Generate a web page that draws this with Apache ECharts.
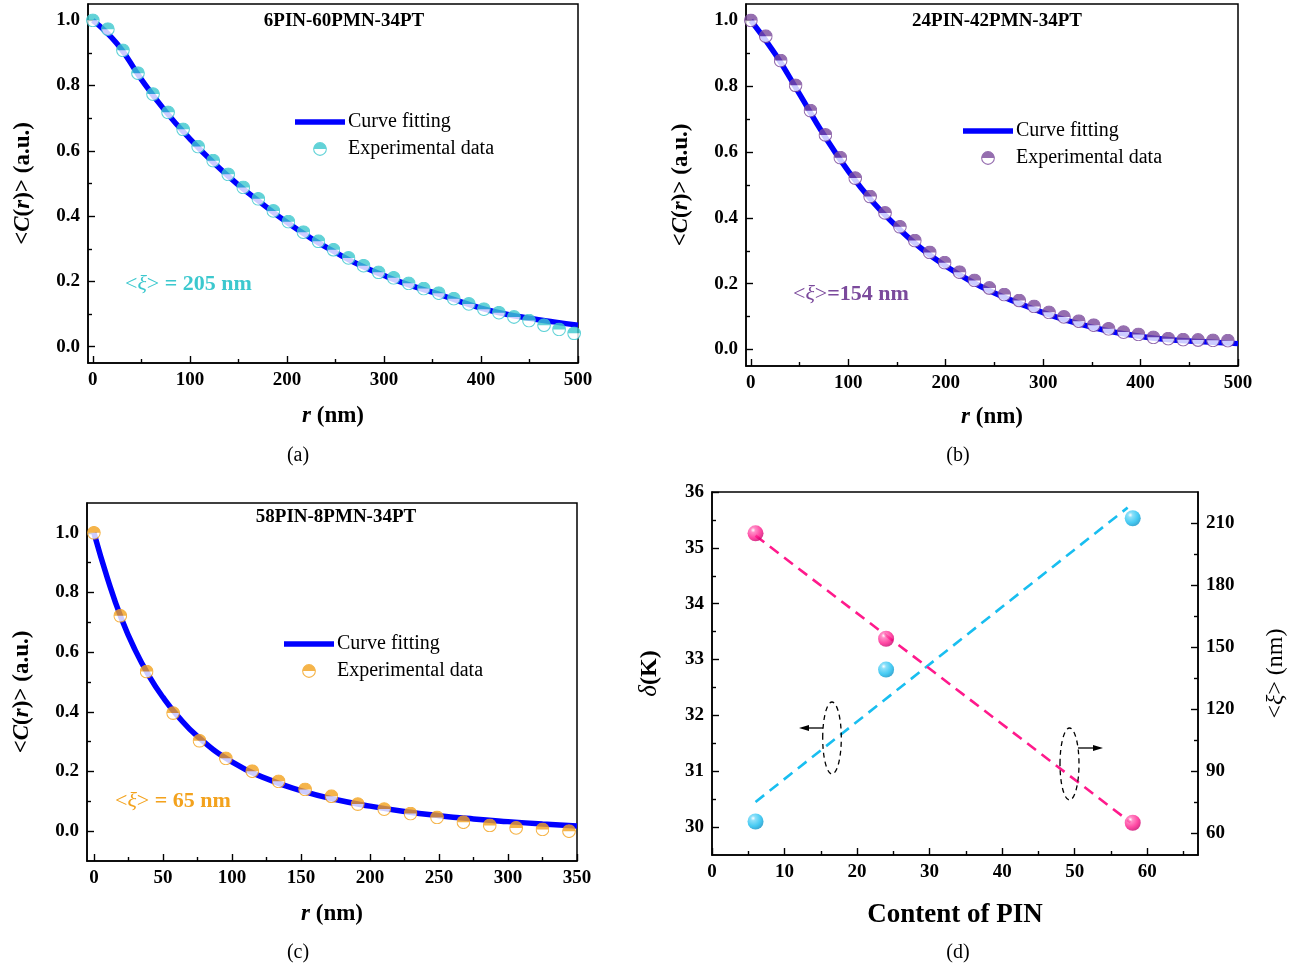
<!DOCTYPE html>
<html>
<head>
<meta charset="utf-8">
<title>C(r) fitting and correlation length</title>
<script src="https://cdn.jsdelivr.net/npm/echarts@6.0.0/dist/echarts.min.js"></script>
<style>
  html, body { margin: 0; padding: 0; background: #fff; }
  #chart { width: 1300px; height: 970px; }
</style>
</head>
<body>
<div id="chart"></div>
<script>
// (a) 6PIN-60PMN-34PT
const rA = [0, 15.5, 31, 46.5, 62, 77.5, 93, 108.5, 124, 139.5, 155, 170.5, 186, 201.5, 217, 232.5, 248,
  263.5, 279, 294.5, 310, 325.5, 341, 356.5, 372, 387.5, 403, 418.5, 434, 449.5, 465, 480.5, 496];
const cA = [1.000, 0.973, 0.908, 0.838, 0.774, 0.718, 0.666, 0.613, 0.570, 0.528, 0.488, 0.453, 0.416, 0.383,
  0.351, 0.323, 0.297, 0.272, 0.248, 0.228, 0.211, 0.194, 0.178, 0.164, 0.147, 0.131, 0.115, 0.104, 0.091,
  0.080, 0.066, 0.053, 0.041];
const fitRA = [0, 25, 50, 75, 100, 125, 150, 175, 200, 225, 250, 275, 300, 325, 350, 375, 400, 425, 450, 475, 500];
const fitA = [1.000, 0.928, 0.819, 0.721, 0.637, 0.562, 0.496, 0.437, 0.381, 0.332, 0.289, 0.250, 0.218, 0.190,
  0.167, 0.142, 0.118, 0.100, 0.087, 0.076, 0.066];

// (b) 24PIN-42PMN-34PT
const rB = [0, 15.3, 30.6, 45.9, 61.2, 76.5, 91.8, 107.1, 122.4, 137.7, 153, 168.3, 183.6, 198.9, 214.2, 229.5,
  244.8, 260.1, 275.4, 290.7, 306, 321.3, 336.6, 351.9, 367.2, 382.5, 397.8, 413.1, 428.4, 443.7, 459, 474.3, 489.6];
const cB = [1.000, 0.952, 0.878, 0.803, 0.726, 0.652, 0.583, 0.521, 0.465, 0.415, 0.373, 0.331, 0.295, 0.264,
  0.235, 0.210, 0.187, 0.167, 0.149, 0.131, 0.113, 0.099, 0.086, 0.074, 0.063, 0.053, 0.046, 0.037, 0.033,
  0.030, 0.029, 0.028, 0.027];
const fitRB = [0, 25, 50, 75, 100, 125, 150, 175, 200, 225, 250, 275, 300, 325, 350, 375, 400, 425, 450, 475, 500];
const fitB = [1.000, 0.898, 0.776, 0.652, 0.542, 0.449, 0.373, 0.307, 0.254, 0.209, 0.172, 0.141, 0.112, 0.088,
  0.068, 0.052, 0.040, 0.031, 0.026, 0.022, 0.018];

// (c) 58PIN-8PMN-34PT
const rC = [0, 19.1, 38.2, 57.4, 76.5, 95.6, 114.7, 133.8, 153, 172.1, 191.2, 210.3, 229.4, 248.6, 267.7,
  286.8, 305.9, 325, 344.2];
const cC = [1.000, 0.722, 0.535, 0.396, 0.303, 0.244, 0.201, 0.167, 0.140, 0.117, 0.091, 0.074, 0.059, 0.046,
  0.030, 0.019, 0.011, 0.006, 0.000];
const fitRC = [0, 10, 20, 30, 40, 50, 60, 75, 100, 125, 150, 175, 200, 225, 250, 275, 300, 325, 350];
const fitC = [1.000, 0.845, 0.712, 0.606, 0.520, 0.449, 0.390, 0.318, 0.232, 0.176, 0.136, 0.106, 0.084, 0.066,
  0.052, 0.041, 0.032, 0.024, 0.017];

// (d) delta and <xi> vs PIN content
const pinContent = [6, 24, 58];
const deltaK = [30.1, 32.82, 35.53];
const xiNm = [205, 154, 65];
const deltaFitX = [6, 57.3];
const deltaFitY = [30.45, 35.72];
const xiFitX = [6, 57.7];
const xiFitY = [203.9, 65.2];

// tick labels
const ticksR500 = [0, 100, 200, 300, 400, 500];
const minorR500 = [50, 150, 250, 350, 450];
const ticksR350 = [0, 50, 100, 150, 200, 250, 300, 350];
const minorR350 = [25, 75, 125, 175, 225, 275, 325];
const ticksC = [0, 0.2, 0.4, 0.6, 0.8, 1.0];
const minorC = [0.1, 0.3, 0.5, 0.7, 0.9];
const ticksPin = [0, 10, 20, 30, 40, 50, 60];
const minorPin = [5, 15, 25, 35, 45, 55, 65];
const ticksDelta = [30, 31, 32, 33, 34, 35, 36];
const minorDelta = [30.5, 31.5, 32.5, 33.5, 34.5, 35.5];
const ticksXi = [60, 90, 120, 150, 180, 210];
const minorXi = [75, 105, 135, 165, 195];

const FONT = 'Liberation Serif';
const BLUE = '#0000FF';
const CYAN = '#3CC8CE';
const PURPLE = '#7B4A9C';
const ORANGE = '#F3A21D';
const PINK = '#FF1A8C';
const SKY = '#19BEF0';

const zip = (xs, ys) => xs.map((x, i) => [x, ys[i]]);

// half-filled circle marker
function halfDot(color) {
  const svg = "<svg xmlns='http://www.w3.org/2000/svg' width='26' height='26' viewBox='0 0 26 26'>" +
    "<circle cx='13' cy='13' r='11.8' fill='#ffffff' stroke='" + color + "' stroke-width='2'/>" +
    "<path d='M1.2 13 A11.8 11.8 0 0 1 24.8 13 Z' fill='" + color + "'/></svg>";
  return 'image://data:image/svg+xml;charset=utf-8,' + encodeURIComponent(svg);
}

function ball(light, mid, dark) {
  return {
    type: 'radial', x: 0.35, y: 0.3, r: 0.75,
    colorStops: [
      { offset: 0, color: '#ffffff' },
      { offset: 0.2, color: light },
      { offset: 0.65, color: mid },
      { offset: 1, color: dark },
    ],
  };
}

const rich = {
  b: { fontFamily: FONT, fontWeight: 'bold', fontSize: 23, color: '#000' },
  bi: { fontFamily: FONT, fontWeight: 'bold', fontStyle: 'italic', fontSize: 23, color: '#000' },
  n: { fontFamily: FONT, fontSize: 24, color: '#000' },
  i: { fontFamily: FONT, fontStyle: 'italic', fontSize: 24, color: '#000' },
  db: { fontFamily: FONT, fontWeight: 'bold', fontSize: 24, color: '#000' },
  di: { fontFamily: FONT, fontStyle: 'italic', fontSize: 25, color: '#000' },
};

// axis with line, labels and name (ticks drawn by tickAxis)
function mainAxis(gridIndex, min, max, values, position, extra, fmt) {
  return Object.assign({
    type: 'value',
    gridIndex,
    min,
    max,
    position,
    axisLine: { show: true, onZero: false, lineStyle: { color: '#000', width: 1.5 } },
    axisTick: { show: false },
    axisLabel: {
      show: true, customValues: values, formatter: fmt, color: '#000',
      fontFamily: FONT, fontWeight: 'bold', fontSize: 19, margin: 8,
    },
    splitLine: { show: false },
    nameLocation: 'middle',
    nameMoveOverlap: false,
    nameTextStyle: { rich },
  }, extra);
}

function tickAxis(gridIndex, min, max, values, position, length) {
  return {
    type: 'value',
    gridIndex,
    min,
    max,
    position,
    axisLine: { show: false, onZero: false },
    axisTick: { show: true, inside: true, length, customValues: values, lineStyle: { color: '#000', width: 1.4 } },
    axisLabel: { show: false },
    splitLine: { show: false },
  };
}

const oneDec = (v) => v.toFixed(1);
const cName = '{b|<}{bi|C}{b|(}{bi|r}{b|)> (a.u.)}';
const rName = '{bi|r}{b| (nm)}';

const gridBox = { show: true, borderColor: '#000', borderWidth: 1.5, outerBoundsMode: 'none' };

function legendFor(tag, left, top) {
  return {
    data: [
      { name: 'Curve fitting|' + tag, icon: 'path://M0 0H50V5.5H0Z' },
      { name: 'Experimental data|' + tag },
    ],
    orient: 'vertical',
    left,
    top,
    padding: 0,
    itemWidth: 50,
    itemHeight: 14,
    itemGap: 7,
    selectedMode: false,
    symbolKeepAspect: true,
    formatter: (n) => n.split('|')[0],
    textStyle: { fontFamily: FONT, fontSize: 20, color: '#000', padding: [0, 0, 0, -2] },
  };
}

function fitSeries(tag, idx, data) {
  return {
    name: 'Curve fitting|' + tag, type: 'line', xAxisIndex: idx, yAxisIndex: idx,
    data, smooth: true, symbol: 'none', showSymbol: false,
    lineStyle: { color: BLUE, width: 5.5 }, itemStyle: { color: BLUE }, z: 2,
  };
}

function dotSeries(tag, idx, data, color) {
  return {
    name: 'Experimental data|' + tag, type: 'scatter', xAxisIndex: idx, yAxisIndex: idx,
    data, symbol: halfDot(color), symbolSize: 14, symbolKeepAspect: true,
    itemStyle: { color }, z: 3,
  };
}

function txt(x, y, text, font, fill, align) {
  return {
    type: 'text', x, y, z: 100,
    style: { text, font, fill: fill || '#000', align: align || 'center', verticalAlign: 'middle' },
  };
}

function xiLabel(x, y, tail, color) {
  return {
    type: 'text', x, y, z: 100,
    style: {
      text: '{n|<}{i|ξ}{n|>}{b|' + tail + '}',
      align: 'left', verticalAlign: 'middle',
      rich: {
        n: { font: '22px "Liberation Serif"', fill: color },
        i: { font: 'italic 22px "Liberation Serif"', fill: color },
        b: { font: 'bold 22px "Liberation Serif"', fill: color },
      },
    },
  };
}

const dash = { type: 'line', style: { stroke: '#000', lineWidth: 1.3 }, z: 100 };

const option = {
  animation: false,
  backgroundColor: '#fff',
  grid: [
    Object.assign({ left: 88, top: 4, width: 490, height: 359 }, gridBox),
    Object.assign({ left: 746, top: 4, width: 492, height: 362 }, gridBox),
    Object.assign({ left: 87, top: 503, width: 490, height: 358 }, gridBox),
    Object.assign({ left: 712, top: 492, width: 486, height: 363 }, gridBox),
  ],
  xAxis: [
    mainAxis(0, -5, 500, ticksR500, 'bottom', { name: rName, nameGap: 42 }),
    tickAxis(0, -5, 500, ticksR500, 'bottom', 7),
    tickAxis(0, -5, 500, minorR500, 'bottom', 4),
    mainAxis(1, -5, 500, ticksR500, 'bottom', { name: rName, nameGap: 40 }),
    tickAxis(1, -5, 500, ticksR500, 'bottom', 7),
    tickAxis(1, -5, 500, minorR500, 'bottom', 4),
    mainAxis(2, -5, 350, ticksR350, 'bottom', { name: rName, nameGap: 42 }),
    tickAxis(2, -5, 350, ticksR350, 'bottom', 7),
    tickAxis(2, -5, 350, minorR350, 'bottom', 4),
    mainAxis(3, 0, 67, ticksPin, 'bottom', {
      name: 'Content of PIN', nameGap: 47,
      nameTextStyle: { fontFamily: FONT, fontWeight: 'bold', fontSize: 27, color: '#000' },
    }),
    tickAxis(3, 0, 67, ticksPin, 'bottom', 7),
    tickAxis(3, 0, 67, minorPin, 'bottom', 4),
  ],
  yAxis: [
    mainAxis(0, -0.05, 1.05, ticksC, 'left', { name: cName, nameGap: 53, nameRotate: 90 }, oneDec),
    tickAxis(0, -0.05, 1.05, ticksC, 'left', 7),
    tickAxis(0, -0.05, 1.05, minorC, 'left', 4),
    mainAxis(1, -0.05, 1.05, ticksC, 'left', { name: cName, nameGap: 53, nameRotate: 90 }, oneDec),
    tickAxis(1, -0.05, 1.05, ticksC, 'left', 7),
    tickAxis(1, -0.05, 1.05, minorC, 'left', 4),
    mainAxis(2, -0.1, 1.1, ticksC, 'left', {
      name: cName, nameGap: 53, nameRotate: 90,
      nameTextStyle: { rich, padding: [0, 20, 0, 0] },
    }, oneDec),
    tickAxis(2, -0.1, 1.1, ticksC, 'left', 7),
    tickAxis(2, -0.1, 1.1, minorC, 'left', 4),
    mainAxis(3, 29.5, 36, ticksDelta, 'left', { name: '{di|δ}{db|(K)}', nameGap: 50, nameRotate: 90 }),
    tickAxis(3, 29.5, 36, ticksDelta, 'left', 7),
    tickAxis(3, 29.5, 36, minorDelta, 'left', 4),
    mainAxis(3, 49.4, 225, ticksXi, 'right', { name: '{n|<}{i|ξ}{n|> (nm)}', nameGap: 66, nameRotate: 90 }),
    tickAxis(3, 49.4, 225, ticksXi, 'right', 7),
    tickAxis(3, 49.4, 225, minorXi, 'right', 4),
  ],
  legend: [
    legendFor('a', 295, 112),
    legendFor('b', 963, 121),
    legendFor('c', 284, 634),
  ],
  series: [
    fitSeries('a', 0, zip(fitRA, fitA)),
    dotSeries('a', 0, zip(rA, cA), CYAN),
    fitSeries('b', 3, zip(fitRB, fitB)),
    dotSeries('b', 3, zip(rB, cB), PURPLE),
    fitSeries('c', 6, zip(fitRC, fitC)),
    dotSeries('c', 6, zip(rC, cC), ORANGE),
    {
      name: 'delta fit', type: 'line', xAxisIndex: 9, yAxisIndex: 9,
      data: zip(deltaFitX, deltaFitY), symbol: 'none',
      lineStyle: { color: SKY, width: 2.6, type: [11, 7] }, z: 2,
    },
    {
      name: 'xi fit', type: 'line', xAxisIndex: 9, yAxisIndex: 12,
      data: zip(xiFitX, xiFitY), symbol: 'none',
      lineStyle: { color: PINK, width: 2.6, type: [11, 7] }, z: 2,
    },
    {
      name: 'delta', type: 'scatter', xAxisIndex: 9, yAxisIndex: 9,
      data: zip(pinContent, deltaK), symbolSize: 16,
      itemStyle: { color: ball('#6fd8f8', '#19bef0', '#0a8fc4') }, z: 3,
    },
    {
      name: 'xi', type: 'scatter', xAxisIndex: 9, yAxisIndex: 12,
      data: zip(pinContent, xiNm), symbolSize: 16,
      itemStyle: { color: ball('#ff70b8', '#ff1a8c', '#c4006a') }, z: 3,
    },
  ],
  graphic: [
    txt(344, 21, '6PIN-60PMN-34PT', 'bold 19px "Liberation Serif"'),
    txt(997, 21, '24PIN-42PMN-34PT', 'bold 19px "Liberation Serif"'),
    txt(336, 517, '58PIN-8PMN-34PT', 'bold 19px "Liberation Serif"'),
    xiLabel(125, 284, ' = 205 nm', CYAN),
    xiLabel(793, 294, '=154 nm', PURPLE),
    xiLabel(115, 801, ' = 65 nm', ORANGE),
    txt(298, 456, '(a)', '20px "Liberation Serif"'),
    txt(958, 456, '(b)', '20px "Liberation Serif"'),
    txt(298, 953, '(c)', '20px "Liberation Serif"'),
    txt(958, 953, '(d)', '20px "Liberation Serif"'),
    // dashed ellipses with arrows pointing to the axes
    {
      type: 'ellipse', shape: { cx: 832, cy: 738, rx: 9.3, ry: 36 }, z: 100,
      style: { fill: 'none', stroke: '#000', lineWidth: 1.3, lineDash: [5, 4] },
    },
    Object.assign({ shape: { x1: 823, y1: 728, x2: 806, y2: 728 } }, dash),
    {
      type: 'polygon', shape: { points: [[799, 728], [809, 725], [809, 731]] }, z: 100,
      style: { fill: '#000' },
    },
    {
      type: 'ellipse', shape: { cx: 1069.5, cy: 764, rx: 9.5, ry: 36 }, z: 100,
      style: { fill: 'none', stroke: '#000', lineWidth: 1.3, lineDash: [5, 4] },
    },
    Object.assign({ shape: { x1: 1078, y1: 748, x2: 1096, y2: 748 } }, dash),
    {
      type: 'polygon', shape: { points: [[1103, 748], [1093, 745], [1093, 751]] }, z: 100,
      style: { fill: '#000' },
    },
  ],
};

const chart = echarts.init(document.getElementById('chart'));
chart.setOption(option);
window.addEventListener('resize', () => {
  chart.resize();
});
</script>
</body>
</html>
